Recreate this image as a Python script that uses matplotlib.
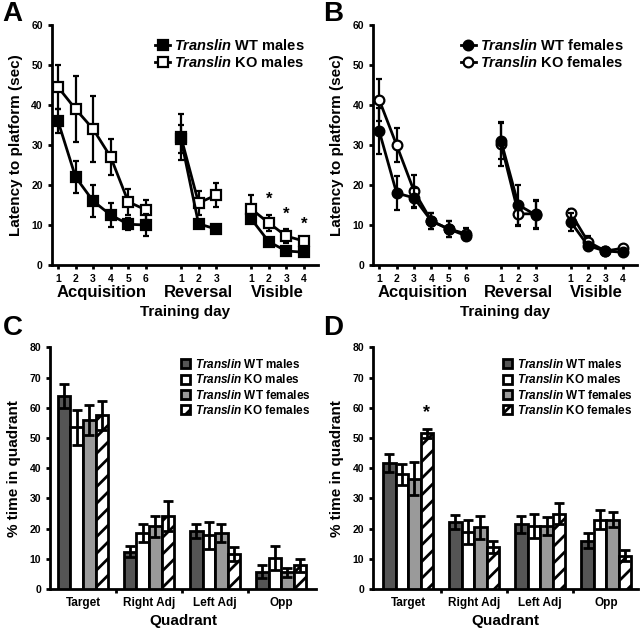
import numpy as np
import matplotlib
matplotlib.use("Agg")
import matplotlib.pyplot as plt
from matplotlib.lines import Line2D
from matplotlib.patches import Patch

plt.rcParams['font.family'] = ['Liberation Sans', 'DejaVu Sans']
plt.rcParams['font.weight'] = 'bold'
plt.rcParams['axes.labelweight'] = 'bold'
plt.rcParams['mathtext.fontset'] = 'custom'
plt.rcParams['mathtext.it'] = 'Liberation Sans:italic:bold'
plt.rcParams['mathtext.rm'] = 'Liberation Sans:bold'
plt.rcParams['hatch.linewidth'] = 2.0

# -----------------------------
#  Data: water maze latencies
# -----------------------------
day_labels = ["1", "2", "3", "4", "5", "6", "1", "2", "3", "1", "2", "3", "4"]
phases = ["Acquisition", "Reversal", "Visible"]
phase_days = [[1, 2, 3, 4, 5, 6], [8, 9, 10], [12, 13, 14, 15]]

wt_m = [[36, 22, 16, 12.5, 10.2, 10], [31.5, 10.3, 9], [11.5, 5.8, 3.5, 3.2]]
wt_m_err = [[3, 4, 4, 3, 1.5, 2.8], [3.5, 1, 1], [1, 0.5, 0.5, 0.5]]
ko_m = [[44.5, 39, 34, 27, 15.8, 13.8], [32, 15.5, 17.5], [14, 10.5, 7.2, 6]]
ko_m_err = [[5.5, 8.3, 8.3, 4.5, 3.3, 2.5], [5.8, 3, 3], [3.5, 2, 1.8, 0.5]]

wt_f = [[33.5, 18, 16.8, 11, 9, 7.3], [31, 15, 12.5], [10.8, 4.8, 3.5, 3.2]]
wt_f_err = [[5.8, 4.3, 2.5, 2, 2, 1], [4.5, 5, 3.5], [2.3, 0.5, 0.5, 0.5]]
ko_f = [[41.3, 30, 18.5, 11, 9, 7.8], [30.3, 12.8, 12.8], [13, 5.8, 3.5, 4.2]]
ko_f_err = [[5.3, 4.3, 4, 2, 2, 1.5], [5.5, 3, 3.5], [1, 1.5, 0.5, 0.5]]

# significance markers in panel A (visible days 2-4)
stars_a_x = [13, 14, 15]
stars_a_y = [16.5, 12.8, 10.3]

# -----------------------------
#  Data: probe trials
# -----------------------------
quadrants = ["Target", "Right Adj", "Left Adj", "Opp"]
groups = ["WT males", "KO males", "WT females", "KO females"]

probe_c = [[64, 12.3, 19.3, 5.8], [53.5, 18.5, 17.8, 10.3],
           [56, 20.8, 18.5, 5.5], [57.5, 24.3, 11.5, 7.8]]
probe_c_err = [[4, 1.8, 2.3, 2.3], [5.8, 3, 4.5, 4],
               [5, 3.5, 3, 1.5], [4.8, 5, 2.3, 2.3]]
probe_d = [[41.8, 22.2, 21.5, 16], [38, 19, 21, 23],
           [36.5, 20.5, 21, 23], [51.5, 14, 25, 11]]
probe_d_err = [[3, 2.3, 2.8, 2.5], [3.5, 4, 4, 3.2],
               [5.5, 3.8, 3, 2.5], [1.5, 2, 3.5, 1.8]]

bar_colors = ["#555555", "white", "#9a9a9a", "white"]
bar_hatch = [None, None, None, "//"]

LW = 2.0

fig = plt.figure(figsize=(6.4, 6.28), dpi=100)


def style_axis(ax):
    for s in ["top", "right"]:
        ax.spines[s].set_visible(False)
    for s in ["left", "bottom"]:
        ax.spines[s].set_linewidth(LW)
    ax.tick_params(width=LW, length=3, labelsize=7.5)


def line_panel(rect, wt, wt_err, ko, ko_err, marker, sex, stars=None):
    ax = fig.add_axes(rect)
    for i, days in enumerate(phase_days):
        ax.errorbar(days, ko[i], yerr=ko_err[i], color="black", lw=LW, elinewidth=1.6,
                    capsize=2.5, capthick=1.6, marker=marker, ms=7, mfc="white",
                    mec="black", mew=1.6, zorder=3)
        ax.errorbar(days, wt[i], yerr=wt_err[i], color="black", lw=LW, elinewidth=1.6,
                    capsize=2.5, capthick=1.6, marker=marker, ms=7, mfc="black",
                    mec="black", mew=1.6, zorder=4)
    ax.set_ylim(0, 60)
    ax.set_yticks(range(0, 61, 10))
    ax.set_xlim(0.65, 15.8)
    all_days = [d for p in phase_days for d in p]
    ax.set_xticks(all_days)
    ax.set_xticklabels(day_labels, fontsize=9)
    style_axis(ax)
    for p, days in zip(phases, phase_days):
        ax.text(np.mean(days), -0.085, p, transform=ax.get_xaxis_transform(),
                ha="center", va="top", fontsize=12)
    ax.set_xlabel("Training day", fontsize=11, labelpad=15)
    ax.set_ylabel("Latency to platform (sec)", fontsize=11, labelpad=6)
    if stars is not None:
        for x, y in zip(*stars):
            ax.text(x, y, "*", ha="center", va="center", fontsize=12)
    handles = [Line2D([], [], color="black", lw=LW, marker=marker, ms=7,
                      mfc="black", mec="black", mew=1.6),
               Line2D([], [], color="black", lw=LW, marker=marker, ms=7,
                      mfc="white", mec="black", mew=1.6)]
    labels = [r"$\it{Translin}$ WT " + sex, r"$\it{Translin}$ KO " + sex]
    ax.legend(handles, labels, loc="upper right", frameon=False, fontsize=10.5,
              handlelength=1.0, handletextpad=0.3, labelspacing=0.1,
              bbox_to_anchor=(1.0, 1.0))
    return ax


def bar_panel(rect, vals, errs, xlim, star=None):
    ax = fig.add_axes(rect)
    x = np.arange(len(quadrants))
    w = 0.19
    for g in range(len(groups)):
        ax.bar(x + (g - 1.5) * w, vals[g], w, yerr=errs[g], color=bar_colors[g],
               edgecolor="black", linewidth=LW, hatch=bar_hatch[g],
               error_kw=dict(elinewidth=2.0, capsize=3.5, capthick=2.0, ecolor="black"),
               zorder=3)
    ax.set_ylim(0, 80)
    ax.set_yticks(range(0, 81, 10))
    ax.set_xlim(*xlim)
    ax.set_xticks([0.5, 1.5, 2.5])
    ax.set_xticklabels([])
    ax.set_xticks(x, minor=True)
    ax.set_xticklabels(quadrants, minor=True, fontsize=8.5)
    style_axis(ax)
    ax.tick_params(axis="x", which="minor", length=0, pad=6)
    ax.set_xlabel("Quadrant", fontsize=11, labelpad=3)
    ax.set_ylabel("% time in quadrant", fontsize=11, labelpad=6)
    if star is not None:
        ax.text(star[0] + 1.5 * w, star[1], "*", ha="center", va="center", fontsize=13)
    handles = [Patch(facecolor=bar_colors[g], edgecolor="black", linewidth=LW,
                     hatch=bar_hatch[g]) for g in range(len(groups))]
    labels = [r"$\it{Translin}$ " + g for g in groups]
    ax.legend(handles, labels, loc="upper right", frameon=False, fontsize=8.5,
              handlelength=0.8, handleheight=0.8, handletextpad=0.4,
              labelspacing=0.2, bbox_to_anchor=(1.02, 1.0))
    return ax


line_panel([0.081, 0.578, 0.416, 0.382], wt_m, wt_m_err, ko_m, ko_m_err, "s", "males",
           stars=(stars_a_x, stars_a_y))
line_panel([0.583, 0.578, 0.412, 0.382], wt_f, wt_f_err, ko_f, ko_f_err, "o", "females")
bar_panel([0.078, 0.062, 0.416, 0.385], probe_c, probe_c_err, (-0.5, 3.53))
bar_panel([0.583, 0.062, 0.414, 0.385], probe_d, probe_d_err, (-0.53, 3.48),
          star=(0, 58.5))

for lab, x, y in [("A", 0.004, 0.998), ("B", 0.505, 0.998),
                  ("C", 0.004, 0.498), ("D", 0.505, 0.498)]:
    fig.text(x, y, lab, fontsize=20, fontweight="bold", ha="left", va="top")

fig.savefig("out.png", dpi=100)
